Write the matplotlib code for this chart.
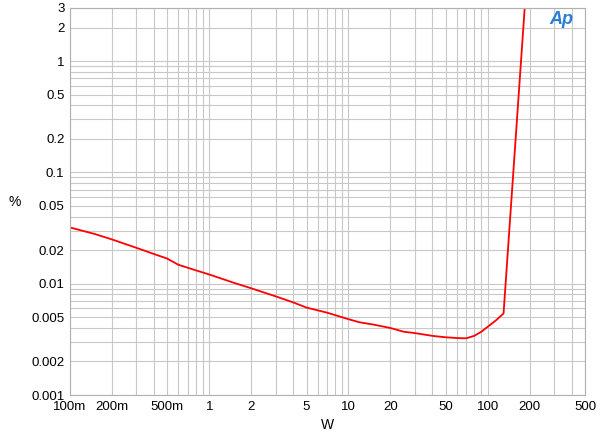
import matplotlib
matplotlib.use("Agg")
import matplotlib.pyplot as plt
from matplotlib.ticker import FixedLocator, NullFormatter, LogLocator

power_w = [0.1, 0.15, 0.2, 0.3, 0.4, 0.5, 0.6, 0.8, 1, 1.5, 2, 3, 4, 5, 7, 10, 12, 15, 20, 25, 30, 40, 50, 60, 70, 80, 90, 100, 115, 130, 186]
thd_pct = [0.032, 0.028, 0.025, 0.021, 0.0185, 0.0168, 0.0148, 0.0132, 0.0121, 0.0102, 0.0091, 0.0077, 0.0068, 0.0061, 0.0055, 0.0048, 0.0045, 0.0043, 0.0040, 0.0037, 0.0036, 0.0034, 0.0033, 0.00325, 0.00323, 0.0034, 0.0037, 0.0041, 0.0047, 0.0054, 3.5]

x_ticks = [0.1, 0.2, 0.5, 1, 2, 5, 10, 20, 50, 100, 200, 500]
x_labels = ["100m", "200m", "500m", "1", "2", "5", "10", "20", "50", "100", "200", "500"]
y_ticks = [0.001, 0.002, 0.005, 0.01, 0.02, 0.05, 0.1, 0.2, 0.5, 1, 2, 3]
y_labels = ["0.001", "0.002", "0.005", "0.01", "0.02", "0.05", "0.1", "0.2", "0.5", "1", "2", "3"]

plt.rcParams['font.family'] = ['Liberation Sans', 'DejaVu Sans']
fig = plt.figure(figsize=(6, 4.42), dpi=100)
ax = fig.add_axes([70/600, 1-395/442, 515/600, 387/442])
ax.plot(power_w, thd_pct, color="#ff0000", lw=1.3)
ax.set_xscale("log"); ax.set_yscale("log")
ax.set_xlim(0.1, 500); ax.set_ylim(0.001, 3)
ax.xaxis.set_major_locator(FixedLocator(x_ticks))
ax.set_xticklabels(x_labels)
ax.xaxis.set_minor_locator(LogLocator(base=10, subs=range(2, 10), numticks=20))
ax.xaxis.set_minor_formatter(NullFormatter())
ax.yaxis.set_major_locator(FixedLocator(y_ticks))
ax.set_yticklabels(y_labels)
ax.yaxis.set_minor_locator(LogLocator(base=10, subs=range(2, 10), numticks=20))
ax.yaxis.set_minor_formatter(NullFormatter())
ax.grid(True, which="both", color="#c8c8c8", lw=0.8)
ax.tick_params(which="both", length=0, labelsize=9.5, pad=4)
for s in ax.spines.values():
    s.set_color("#b0b0b0")
ax.set_xlabel("W", fontsize=10)
ax.set_ylabel("%", fontsize=10, rotation=0, va="center", ha="center")
ax.yaxis.set_label_coords(-0.107, 0.5)
fig.text(0.935, 0.955, "Ap", color="#2a7fd4", fontsize=13, style="italic", fontweight="bold", ha="center", va="center")
fig.savefig("out.png", dpi=100)
